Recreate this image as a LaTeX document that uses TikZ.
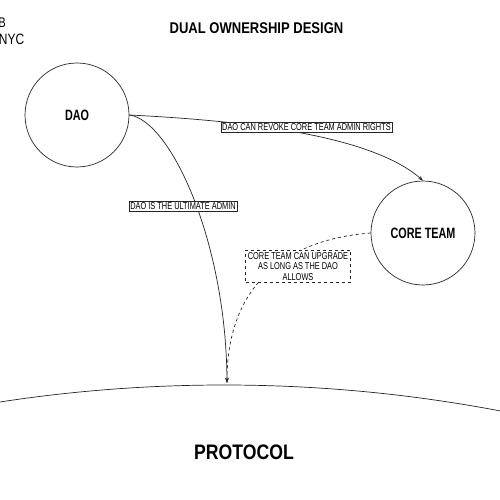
\documentclass[tikz,border=0pt]{standalone}
\usepackage{fontspec}
\setmainfont{Liberation Sans}
\newfontfamily\labfont[FakeStretch=0.74]{Liberation Sans}
\newfontfamily\titlefont[FakeStretch=0.84]{Liberation Sans}
\newfontfamily\circfont[FakeStretch=0.72]{Liberation Sans}
\newfontfamily\cornerfont[FakeStretch=0.8]{Liberation Sans}
\usetikzlibrary{arrows.meta}
\tikzset{
  line/.style={draw=black!85, line width=0.7pt},
  arr/.style={line, -{Stealth[length=5pt,width=3.5pt]}},
  actor/.style={circle, line, minimum size=104pt, inner sep=0pt, font=\circfont\bfseries\fontsize{15}{17}\selectfont},
  lbl/.style={draw=black!85, line width=0.6pt, fill=white, inner sep=1.4pt, font=\labfont\fontsize{10}{10.5}\selectfont, align=center},
  dlbl/.style={lbl, dashed, inner sep=2.2pt},
}
\begin{document}
\begin{tikzpicture}[x=1pt,y=-1pt]
\useasboundingbox[fill=white] (0,0) rectangle (500,500);
% corner text (cut at the page edge, as in the reference)
\node[anchor=east, inner sep=0pt, font=\cornerfont\fontsize{14}{16}\selectfont] (cornerb) at (6,22.5) {B};
\node[anchor=east, inner sep=0pt, font=\cornerfont\fontsize{15}{17}\selectfont] (cornernyc) at (24.5,39) {NYC};
% title
\node[inner sep=0pt, font=\titlefont\bfseries\fontsize{15.5}{18}\selectfont] (title) at (256.5,28) {DUAL OWNERSHIP DESIGN};
% protocol arc
\draw[line] (224,1854) circle[radius=1469];
\coordinate (ptop) at (227,383);
\node[inner sep=0pt, font=\titlefont\bfseries\fontsize{21}{24}\selectfont] (protocol) at (244,452) {PROTOCOL};
% actors
\node[actor] (dao) at (77,115) {DAO};
\node[actor] (core) at (423,233) {CORE TEAM};
% connectors
\draw[arr] (dao.east) .. controls (250,121) and (372,136) .. (core.north);
\draw[arr] (dao.east) .. controls (170,120) and (226,240) .. (ptop);
\draw[arr, dashed, dash pattern=on 3pt off 3pt] (core.west) .. controls (280,240) and (227,290) .. (ptop);
% labels
\node[lbl] (l1) at (306.5,127) {DAO CAN REVOKE CORE TEAM ADMIN RIGHTS};
\node[lbl] (l2) at (183,206.5) {DAO IS THE ULTIMATE ADMIN};
\node[dlbl] (l3) at (298,266.5) {CORE TEAM CAN UPGRADE\\AS LONG AS THE DAO\\ALLOWS};
\end{tikzpicture}
\end{document}
